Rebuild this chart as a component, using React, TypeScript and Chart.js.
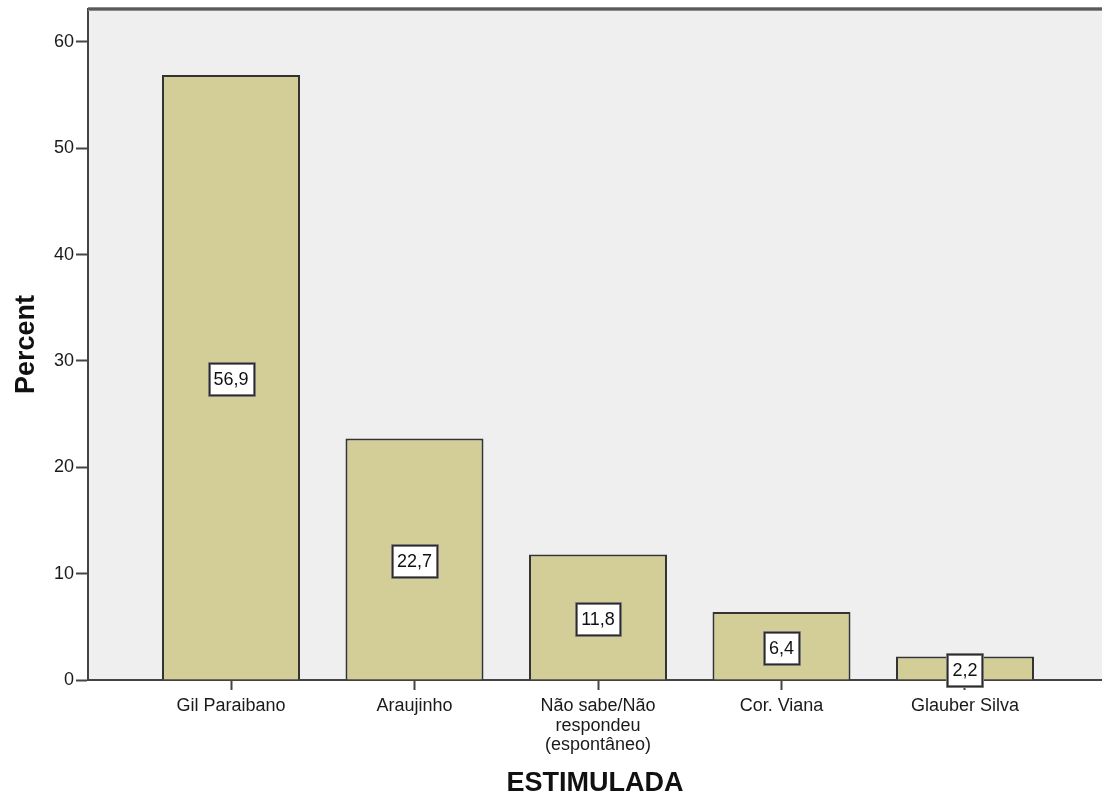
import React, { useEffect, useRef } from 'react';
import { Chart, registerables } from 'chart.js';

Chart.register(...registerables);

const categories = ['Gil Paraibano', 'Araujinho', 'Não sabe/Não respondeu (espontâneo)', 'Cor. Viana', 'Glauber Silva'];
const categoryLines = [['Gil Paraibano'], ['Araujinho'], ['Não sabe/Não', 'respondeu', '(espontâneo)'], ['Cor. Viana'], ['Glauber Silva']];
const percents = [56.9, 22.7, 11.8, 6.4, 2.2];
const valueLabels = ['56,9', '22,7', '11,8', '6,4', '2,2'];
const yTicks = [0, 10, 20, 30, 40, 50, 60];
const xTitle = 'ESTIMULADA';
const yTitle = 'Percent';

const FONT = "'Liberation Sans', Arial, sans-serif";

const spssPlugin = {
  id: 'spssDecor',
  beforeDraw(chart: any) {
    const { ctx, chartArea: a } = chart;
    ctx.save();
    ctx.fillStyle = '#EFEFEF';
    ctx.fillRect(a.left, a.top, a.right - a.left, a.bottom - a.top);
    ctx.restore();
  },
  afterDatasetsDraw(chart: any) {
    const { ctx } = chart;
    const meta = chart.getDatasetMeta(0);
    const yScale = chart.scales.y;
    ctx.save();
    ctx.font = `18px ${FONT}`;
    ctx.textAlign = 'center';
    ctx.textBaseline = 'middle';
    meta.data.forEach((bar: any, i: number) => {
      const v = percents[i];
      const text = valueLabels[i];
      const cx = bar.x;
      const cy = yScale.getPixelForValue(v / 2) + 2;
      const tw = ctx.measureText(text).width;
      const w = Math.round(tw + 10);
      const h = 32;
      const x0 = Math.round(cx - w / 2) + 0.5;
      const y0 = Math.round(cy - h / 2) + 0.5;
      ctx.fillStyle = '#FFFFFF';
      ctx.fillRect(x0, y0, w, h);
      ctx.strokeStyle = '#9a9a9a';
      ctx.lineWidth = 3;
      ctx.strokeRect(x0, y0, w, h);
      ctx.strokeStyle = '#2a2a2a';
      ctx.lineWidth = 1.5;
      ctx.strokeRect(x0, y0, w, h);
      ctx.fillStyle = '#111';
      ctx.fillText(text, cx, cy + 1);
    });
    ctx.restore();
  },
  afterDraw(chart: any) {
    const { ctx, chartArea: a } = chart;
    ctx.save();
    ctx.strokeStyle = '#8a8a8a';
    ctx.lineWidth = 4;
    ctx.beginPath();
    ctx.moveTo(a.left, a.top);
    ctx.lineTo(a.right, a.top);
    ctx.stroke();
    ctx.strokeStyle = '#5a5a5a';
    ctx.lineWidth = 2;
    ctx.beginPath();
    ctx.moveTo(a.left, a.top);
    ctx.lineTo(a.right, a.top);
    ctx.stroke();
    ctx.restore();
  },
};

export default function App() {
  const canvasRef = useRef<HTMLCanvasElement | null>(null);

  useEffect(() => {
    document.body.style.margin = '0';
    const canvas = canvasRef.current;
    if (!canvas) return;
    Chart.defaults.font.family = FONT;
    const chart = new Chart(canvas, {
      type: 'bar',
      data: {
        labels: categories,
        datasets: [
          {
            label: yTitle,
            data: percents.map((v, i) => ({ x: i, y: v })) as any,
            backgroundColor: '#D3CE97',
            borderColor: '#333333',
            borderWidth: 2,
            categoryPercentage: 1,
            barPercentage: 0.752,
          },
        ],
      },
      options: {
        animation: false,
        responsive: false,
        maintainAspectRatio: false,
        layout: { padding: { top: 9, right: 0, left: 0, bottom: 0 } },
        plugins: {
          legend: { display: false },
          tooltip: { enabled: false },
          title: { display: false },
        },
        scales: {
          x: {
            type: 'linear',
            min: -0.7793,
            max: 4.7466,
            offset: false,
            afterBuildTicks(scale: any) {
              scale.ticks = categories.map((_, i) => ({ value: i }));
            },
            afterFit(scale: any) {
              scale.height = 121;
              scale.paddingLeft = 0;
              scale.paddingRight = 0;
            },
            ticks: {
              autoSkip: false,
              maxRotation: 0,
              minRotation: 0,
              padding: 6,
              color: '#1a1a1a',
              font: { size: 18, lineHeight: 1.1 },
              callback: (v: any) => categoryLines[Number(v)] ?? '',
            },
            grid: {
              offset: false,
              drawOnChartArea: false,
              drawTicks: true,
              tickLength: 10,
              tickColor: '#444',
              tickWidth: 2,
            },
            border: { display: true, color: '#444', width: 2 },
            title: {
              display: true,
              text: xTitle,
              color: '#111',
              font: { size: 27, weight: 'bold', lineHeight: 1.2 },
              padding: { top: 0, bottom: 1 },
            },
          },
          y: {
            type: 'linear',
            min: 0,
            max: 63.1,
            afterBuildTicks(scale: any) {
              scale.ticks = yTicks.map((v) => ({ value: v }));
            },
            afterFit(scale: any) {
              scale.width = 88;
              scale.paddingTop = 0;
              scale.paddingBottom = 0;
            },
            ticks: {
              padding: 2,
              color: '#1a1a1a',
              font: { size: 18 },
              callback: (v: any) => String(v),
            },
            grid: {
              drawOnChartArea: false,
              drawTicks: true,
              tickLength: 12,
              tickColor: '#444',
              tickWidth: 2,
            },
            border: { display: true, color: '#444', width: 2 },
            title: {
              display: true,
              text: yTitle,
              color: '#111',
              font: { size: 27, weight: 'bold', lineHeight: 1.2 },
              padding: { top: 10, bottom: 0 },
            },
          },
        },
      },
      plugins: [spssPlugin],
    });
    return () => chart.destroy();
  }, []);

  return (
    <div style={{ width: 1102, height: 801, background: '#fff' }}>
      <canvas ref={canvasRef} width={1102} height={801} style={{ width: 1102, height: 801, display: 'block' }} />
    </div>
  );
}
